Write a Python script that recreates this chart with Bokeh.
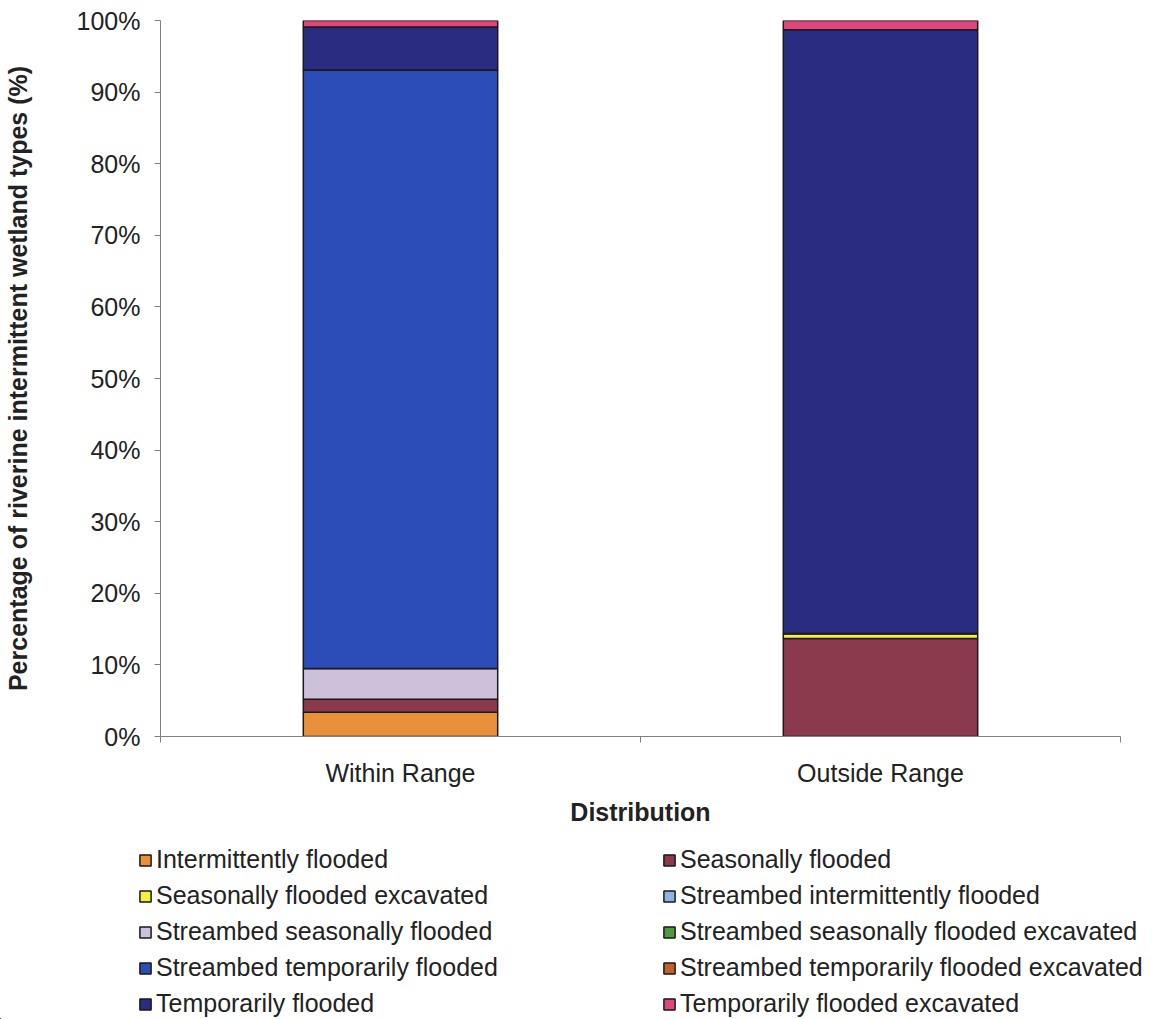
from bokeh.plotting import figure
from bokeh.layouts import column
from bokeh.models import (Range1d, FixedTicker, Legend, LegendItem,
                          ColumnDataSource, PrintfTickFormatter)
from bokeh.embed import file_html
from bokeh.resources import INLINE

# Wetland type shares (%) per distribution class
categories = ["Within Range", "Outside Range"]
wetland_types = [
    "Intermittently flooded",
    "Seasonally flooded",
    "Seasonally flooded excavated",
    "Streambed intermittently flooded",
    "Streambed seasonally flooded",
    "Streambed seasonally flooded excavated",
    "Streambed temporarily flooded",
    "Streambed temporarily flooded excavated",
    "Temporarily flooded",
    "Temporarily flooded excavated",
]
intermittently_flooded = [3.4, 0.0]
seasonally_flooded = [1.8, 13.7]
seasonally_flooded_excavated = [0.0, 0.7]
streambed_intermittently_flooded = [0.0, 0.0]
streambed_seasonally_flooded = [4.3, 0.0]
streambed_seasonally_flooded_excavated = [0.0, 0.0]
streambed_temporarily_flooded = [83.6, 0.0]
streambed_temporarily_flooded_excavated = [0.0, 0.0]
temporarily_flooded = [6.0, 84.3]
temporarily_flooded_excavated = [0.9, 1.3]

colors = ["#E8913A", "#8B3A4E", "#F2F23C", "#8DB4E2", "#CCC0DA",
          "#4F9A3F", "#2C4DB8", "#C0602E", "#2A2C82", "#E0457B"]

series = [intermittently_flooded, seasonally_flooded, seasonally_flooded_excavated,
          streambed_intermittently_flooded, streambed_seasonally_flooded,
          streambed_seasonally_flooded_excavated, streambed_temporarily_flooded,
          streambed_temporarily_flooded_excavated, temporarily_flooded,
          temporarily_flooded_excavated]

keys = [f"s{i}" for i in range(len(series))]
xpos = [i + 0.5 for i in range(len(categories))]
data = {"x": xpos}
for k, s in zip(keys, series):
    data[k] = s
source = ColumnDataSource(data)

FONT = "Liberation Sans"
TEXT = "#222222"
FS = "25px"
EDGE = "#1a1a1a"

p = figure(frame_width=960, frame_height=716, output_backend="svg",
           toolbar_location=None,
           x_range=Range1d(0, len(categories)), y_range=Range1d(0, 100),
           min_border_left=160, min_border_right=35, min_border_top=20,
           min_border_bottom=100)
p.outline_line_color = None
p.xgrid.visible = False
p.ygrid.visible = False
p.frame_align = False

renderers = p.vbar_stack(keys, x="x", width=0.405, source=source, color=colors,
                         line_color=EDGE, line_width=1.5)
for r, c in zip(renderers, colors):
    r.glyph.fill_color = c
    r.glyph.line_color = EDGE

# y axis
ya = p.yaxis[0]
ya.ticker = FixedTicker(ticks=list(range(0, 101, 10)))
ya.formatter = PrintfTickFormatter(format="%d%%")
ya.axis_line_color = "#808080"
ya.major_tick_line_color = "#808080"
ya.major_tick_out = 6
ya.major_tick_in = 0
ya.minor_tick_line_color = None
ya.major_label_standoff = 14
ya.major_label_text_font = FONT
ya.major_label_text_font_size = FS
ya.major_label_text_color = TEXT
ya.axis_label = "Percentage of riverine intermittent wetland types (%)"
ya.axis_label_text_font = FONT
ya.axis_label_text_font_style = "bold"
ya.axis_label_text_font_size = FS
ya.axis_label_text_color = TEXT
ya.axis_label_standoff = 42

# x axis: labels at bar centres, tick marks on category boundaries
xa = p.xaxis[0]
xa.ticker = FixedTicker(ticks=xpos, minor_ticks=list(range(len(categories) + 1)))
xa.major_label_overrides = {x: c for x, c in zip(xpos, categories)}
xa.axis_line_color = "#808080"
xa.major_tick_out = 0
xa.major_tick_in = 0
xa.minor_tick_out = 6
xa.minor_tick_in = 0
xa.minor_tick_line_color = "#808080"
xa.major_label_standoff = 16
xa.major_label_text_font = FONT
xa.major_label_text_font_size = FS
xa.major_label_text_color = TEXT
xa.axis_label = "Distribution"
xa.axis_label_text_font = FONT
xa.axis_label_text_font_style = "bold"
xa.axis_label_text_font_size = FS
xa.axis_label_text_color = TEXT
xa.axis_label_standoff = 8

# Legend strip below the chart; its swatch renderers share the bar data but
# lie outside this strip's visible ranges, so only the legend shows.
leg = figure(width=1155, height=183, output_backend="svg", toolbar_location=None,
             x_range=Range1d(100, 102), y_range=Range1d(1000, 1100),
             x_axis_location=None, y_axis_location=None,
             min_border_left=0, min_border_right=0, min_border_top=0,
             min_border_bottom=0)
leg.grid.visible = False
leg.outline_line_color = None
leg.frame_align = False

swatches = leg.vbar_stack(keys, x="x", width=0.405, source=source, color=colors,
                          line_color=EDGE, line_width=1.5)
for r, c in zip(swatches, colors):
    r.glyph.fill_color = c
    r.glyph.line_color = EDGE

# two legend columns, filled column by column
order = list(range(0, len(wetland_types), 2)) + list(range(1, len(wetland_types), 2))
items = [LegendItem(label=wetland_types[i], renderers=[swatches[i]]) for i in order]
legend = Legend(items=items, ncols=2, location=(138, 1),
                label_text_font=FONT, label_text_font_size=FS,
                label_text_color=TEXT, glyph_width=14, glyph_height=14,
                label_standoff=4, label_width=499, spacing=7, padding=0,
                margin=0, border_line_color=None, background_fill_alpha=0)
leg.add_layout(legend, "center")

layout = column(p, leg, spacing=0)
open("out.html", "w").write(file_html(layout, INLINE))
